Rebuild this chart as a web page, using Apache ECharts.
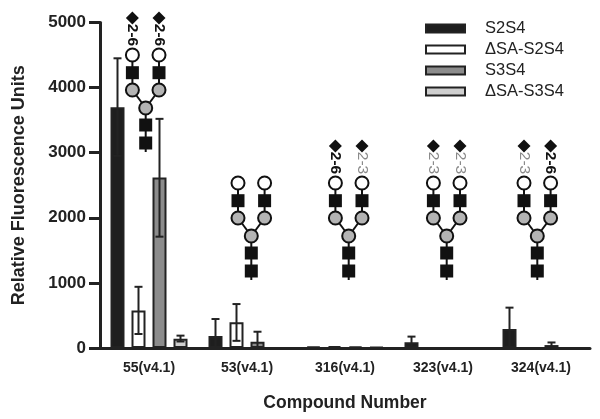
<!DOCTYPE html>
<html>
<head>
<meta charset="utf-8">
<style>
  html, body { margin: 0; padding: 0; background: #fff; }
  #chart { width: 600px; height: 419px; }
</style>
<script src="https://cdn.jsdelivr.net/npm/echarts@6/dist/echarts.min.js"></script>
</head>
<body>
<div id="chart"></div>
<script>
var categories = ["55(v4.1)", "53(v4.1)", "316(v4.1)", "323(v4.1)", "324(v4.1)"];
var yTicks = [0, 1000, 2000, 3000, 4000, 5000];

var s2s4 = [3700, 185, 20, 90, 290];
var dsaS2s4 = [575, 395, 30, 0, 0];
var s3s4 = [2620, 95, 25, 0, 45];
var dsaS3s4 = [143, 0, 15, 0, 0];

// error bar ends, null = none visible
var s2s4Hi = [4450, 445, null, 175, 620];
var s2s4Lo = [2950, 0, null, 5, 0];
var dsaS2s4Hi = [940, 675, null, null, null];
var dsaS2s4Lo = [215, 110, null, null, null];
var s3s4Hi = [3520, 250, null, null, 85];
var s3s4Lo = [1710, 0, null, null, 10];
var dsaS3s4Hi = [190, null, null, null, null];
var dsaS3s4Lo = [100, null, null, null, null];

var INK = "#222";
var BAR_W = 14, BAR_GAP = 7;

function barSeries(name, data, color) {
  return {
    name: name,
    type: "bar",
    data: data,
    barWidth: BAR_W,
    barGap: "50%",
    itemStyle: { color: color, borderColor: INK, borderWidth: 2 },
    silent: true
  };
}

// whiskers sit on top of the bars, shifted to the slot of bar number idx
function errorSeries(idx, hi, lo) {
  var offset = (idx - 1.5) * (BAR_W + BAR_GAP);
  var rows = [];
  hi.forEach(function (v, i) {
    if (v !== null) rows.push([i, v, lo[i]]);
  });
  return {
    type: "custom",
    data: rows,
    z: 5,
    silent: true,
    encode: { x: 0, y: [1, 2] },
    renderItem: function (params, api) {
      var top = api.coord([api.value(0), api.value(1)]);
      var bot = api.coord([api.value(0), api.value(2)]);
      var x = top[0] + offset;
      var st = { stroke: INK, lineWidth: 2, fill: null };
      return {
        type: "group",
        children: [
          { type: "line", shape: { x1: x, y1: top[1], x2: x, y2: bot[1] }, style: st },
          { type: "line", shape: { x1: x - 4, y1: top[1], x2: x + 4, y2: top[1] }, style: st },
          { type: "line", shape: { x1: x - 4, y1: bot[1], x2: x + 4, y2: bot[1] }, style: st }
        ]
      };
    }
  };
}

// glycan cartoon above each group, cx = stem x, y = top of the sialic circles
function glycan(cx, y, leftLabel, rightLabel) {
  var out = [];
  var arm = 13.3;
  var line = function (x1, y1, x2, y2) {
    out.push({ type: "line", z: 10, shape: { x1: x1, y1: y1, x2: x2, y2: y2 },
      style: { stroke: "#111", lineWidth: 2 } });
  };
  var circle = function (x, yy, fill) {
    out.push({ type: "circle", z: 11, shape: { cx: x, cy: yy, r: 6.5 },
      style: { fill: fill, stroke: "#111", lineWidth: 2 } });
  };
  var square = function (x, yy) {
    out.push({ type: "rect", z: 11, shape: { x: x - 6.5, y: yy - 6.5, width: 13, height: 13 },
      style: { fill: "#111" } });
  };
  line(cx, y + 53, cx, y + 97);
  line(cx - arm, y, cx - arm, y + 35);
  line(cx + arm, y, cx + arm, y + 35);
  line(cx - arm, y + 35, cx, y + 53);
  line(cx + arm, y + 35, cx, y + 53);
  [-arm, arm].forEach(function (dx, i) {
    var x = cx + dx;
    circle(x, y, "#fff");
    square(x, y + 17.7);
    circle(x, y + 35, "#b4b4b4");
    var lab = i === 0 ? leftLabel : rightLabel;
    if (lab) {
      out.push({ type: "polygon", z: 11,
        shape: { points: [[x, y - 43.5], [x + 6.5, y - 37], [x, y - 30.5], [x - 6.5, y - 37]] },
        style: { fill: "#111" } });
      var is26 = lab === "2-6";
      out.push({ type: "text", z: 11, x: x, y: y - 20, rotation: -Math.PI / 2,
        style: { text: lab, fill: is26 ? "#111" : "#8a8a8a",
          font: (is26 ? "bold " : "") + "15.5px 'Liberation Sans'",
          textAlign: "center", textVerticalAlign: "middle" } });
    }
  });
  circle(cx, y + 53, "#b4b4b4");
  square(cx, y + 70);
  square(cx, y + 88);
  return out;
}

var graphics = []
  .concat(glycan(145.7, 55, "2-6", "2-6"))
  .concat(glycan(251.3, 183, null, null))
  .concat(glycan(348.7, 183, "2-6", "2-3"))
  .concat(glycan(446.7, 183, "2-3", "2-3"))
  .concat(glycan(537.3, 183, "2-3", "2-6"));

var option = {
  animation: false,
  backgroundColor: "#fff",
  grid: { left: 100, right: 10, top: 22.5, bottom: 71, outerBoundsMode: "none" },
  legend: {
    data: ["S2S4", "ΔSA-S2S4", "S3S4", "ΔSA-S3S4"],
    orient: "vertical",
    left: 420,
    top: 15,
    itemWidth: 39,
    itemHeight: 8,
    itemGap: 4,
    icon: "rect",
    selectedMode: false,
    textStyle: {
      fontFamily: "Liberation Sans",
      fontSize: 16.5,
      color: "#222",
      padding: [0, 0, 0, 15]
    }
  },
  xAxis: {
    type: "category",
    data: categories,
    name: "Compound Number",
    nameLocation: "middle",
    nameGap: 46,
    nameTextStyle: { fontFamily: "Liberation Sans", fontWeight: "bold", fontSize: 17.5, color: "#222" },
    axisLine: { lineStyle: { color: INK, width: 3 } },
    axisTick: { show: false },
    axisLabel: { fontFamily: "Liberation Sans", fontWeight: "bold", fontSize: 14, color: "#222", margin: 13 },
    z: 6
  },
  yAxis: {
    type: "value",
    min: yTicks[0],
    max: yTicks[yTicks.length - 1],
    interval: 1000,
    name: "Relative Fluorescence Units",
    nameLocation: "middle",
    nameGap: 72,
    nameTextStyle: { fontFamily: "Liberation Sans", fontWeight: "bold", fontSize: 18, color: "#222" },
    splitLine: { show: false },
    axisLine: { show: true, lineStyle: { color: INK, width: 3 } },
    axisTick: { show: true, length: 11, lineStyle: { color: INK, width: 3 } },
    axisLabel: {
      fontFamily: "Liberation Sans", fontWeight: "bold", fontSize: 17, color: "#222", margin: 14,
      formatter: function (v) { return String(v); }
    },
    z: 6
  },
  series: [
    barSeries("S2S4", s2s4, "#1e1e1e"),
    barSeries("ΔSA-S2S4", dsaS2s4, "#fff"),
    barSeries("S3S4", s3s4, "#8c8c8c"),
    barSeries("ΔSA-S3S4", dsaS3s4, "#cfcfcf"),
    errorSeries(0, s2s4Hi, s2s4Lo),
    errorSeries(1, dsaS2s4Hi, dsaS2s4Lo),
    errorSeries(2, s3s4Hi, s3s4Lo),
    errorSeries(3, dsaS3s4Hi, dsaS3s4Lo)
  ],
  graphic: graphics
};

var myChart = echarts.init(document.getElementById("chart"), null, { renderer: "canvas" });
myChart.setOption(option);
</script>
</body>
</html>
